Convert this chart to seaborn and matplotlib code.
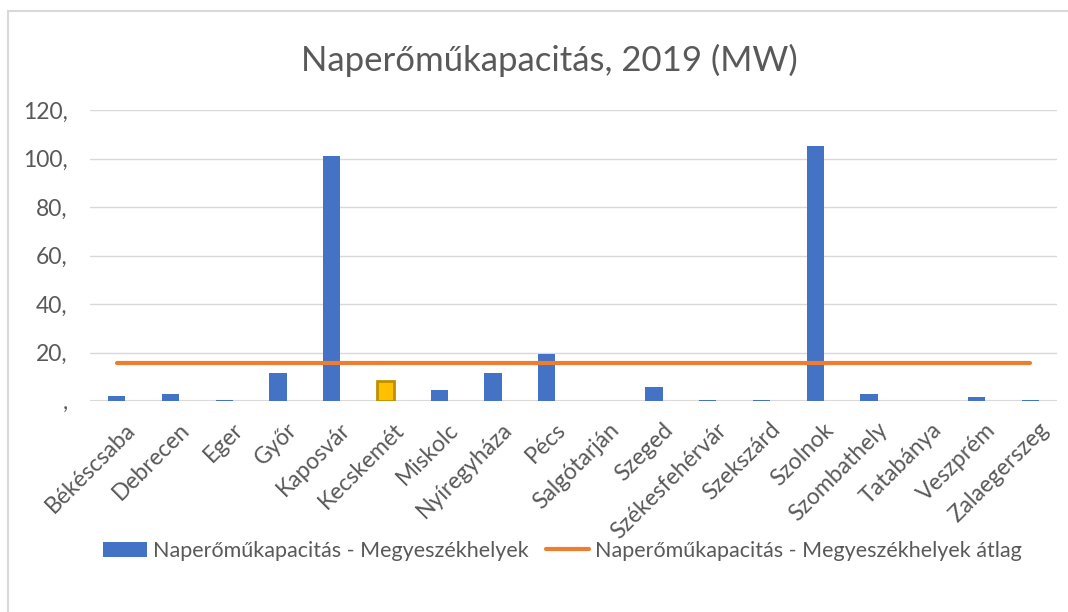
import numpy as np
import matplotlib
matplotlib.use('Agg')
from matplotlib import pyplot as plt
from matplotlib.patches import Patch, Rectangle
from matplotlib.lines import Line2D
from matplotlib.transforms import ScaledTranslation
import seaborn as sns

# data (MW)
cities = ['Békéscsaba', 'Debrecen', 'Eger', 'Győr', 'Kaposvár', 'Kecskemét', 'Miskolc',
          'Nyíregyháza', 'Pécs', 'Salgótarján', 'Szeged', 'Székesfehérvár', 'Szekszárd',
          'Szolnok', 'Szombathely', 'Tatabánya', 'Veszprém', 'Zalaegerszeg']
capacity_mw = [1.9, 2.8, 0.6, 11.5, 101.0, 8.3, 4.4, 11.5, 19.4, 0.0, 5.6, 0.5, 0.5,
               105.2, 3.0, 0.0, 1.6, 0.5]
avg_mw = 15.5
ytick_vals = [0, 20, 40, 60, 80, 100, 120]
ytick_labels = [',', '20,', '40,', '60,', '80,', '100,', '120,']

title = 'Naperőműkapacitás, 2019 (MW)'
bar_label = 'Naperőműkapacitás - Megyeszékhelyek'
line_label = 'Naperőműkapacitás - Megyeszékhelyek átlag'

BLUE = '#4472C4'
ORANGE = '#ED7D31'
GOLD = '#FFC000'
GREY = '#595959'
GRID = '#D9D9D9'
highlight = 'Kecskemét'

sns.set_theme(style='white')
plt.rcParams['font.family'] = ['Lato', 'DejaVu Sans']

fig = plt.figure(figsize=(10.68, 6.12), dpi=100)
ax = fig.add_axes([90 / 1068, 1 - 401 / 612, (1057 - 90) / 1068, (401 - 110) / 612])

colors = [GOLD if c == highlight else BLUE for c in cities]
sns.barplot(x=cities, y=capacity_mw, hue=cities, palette=colors, legend=False,
            width=0.32, ax=ax, saturation=1)
for patch, c in zip(ax.patches, cities):
    if c == highlight:
        patch.set_edgecolor('#BF9000')
        patch.set_linewidth(2)
    else:
        patch.set_linewidth(0)

pos = np.arange(len(cities))
ax.plot(pos, [avg_mw] * len(cities), color=ORANGE, lw=3, solid_capstyle='round', zorder=3)

ax.set_ylim(0, 120)
ax.set_xlim(-0.5, len(cities) - 0.5)
ax.set_yticks(ytick_vals)
ax.set_yticklabels(ytick_labels, color=GREY, fontsize=16.5)
ax.yaxis.grid(True, color=GRID, lw=1)
ax.set_axisbelow(True)
for s in ax.spines.values():
    s.set_visible(False)
ax.axhline(0, color=GRID, lw=1.5, zorder=0.5)
ax.tick_params(axis='y', length=0, pad=16)
ax.tick_params(axis='x', length=0, pad=13)
ax.set_xticks(pos)
ax.set_xticklabels(cities, rotation=45, ha='right', rotation_mode='anchor',
                   color=GREY, fontsize=16.5)
shift = ScaledTranslation(8 / 100, 0, fig.dpi_scale_trans)
for lbl in ax.get_xticklabels():
    lbl.set_transform(lbl.get_transform() + shift)

fig.text(0.514, 1 - 60 / 612, title, ha='center', va='center', fontsize=25, color=GREY)

handles = [Patch(facecolor=BLUE, edgecolor='none'),
           Line2D([], [], color=ORANGE, lw=3, solid_capstyle='round')]
fig.legend(handles, [bar_label, line_label], loc='center', ncol=2,
           bbox_to_anchor=(0.527, 1 - 551 / 612), frameon=False, fontsize=15.5,
           labelcolor=GREY, handlelength=2.0, handletextpad=0.3, columnspacing=0.8)

fig.patches.append(Rectangle((8 / 1068, -0.05), 1.1, 1 - 11 / 612 + 0.05,
                             transform=fig.transFigure, fill=False,
                             edgecolor=GRID, lw=1.5))

fig.savefig('out.png', dpi=100)
